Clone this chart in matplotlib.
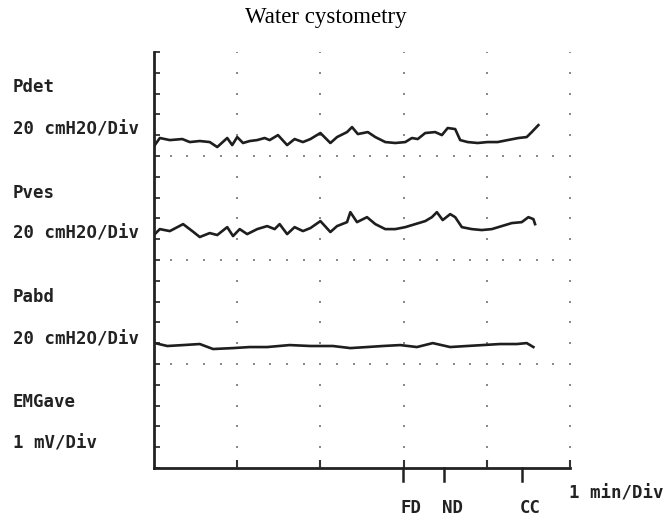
import numpy as np
import matplotlib
matplotlib.use("Agg")
from matplotlib import pyplot as plt
from matplotlib.transforms import blended_transform_factory

# time in minutes, pressure in cmH2O (zero = bottom of each channel band)
t_pdet = [0.01, 0.07, 0.19, 0.34, 0.43, 0.55, 0.67, 0.76, 0.88, 0.94, 1.00, 1.07, 1.15,
          1.24, 1.33, 1.39, 1.49, 1.60, 1.69, 1.79, 1.88, 2.00, 2.12, 2.20, 2.32, 2.38,
          2.45, 2.57, 2.66, 2.78, 2.90, 3.02, 3.10, 3.17, 3.26, 3.38, 3.46, 3.53, 3.62,
          3.68, 3.77, 3.89, 4.01, 4.13, 4.25, 4.38, 4.48, 4.54, 4.62]
p_pdet = [10.5, 17.3, 15.3, 16.3, 13.4, 14.4, 13.4, 8.6, 17.3, 10.5, 18.2, 12.5, 14.4,
          15.3, 17.3, 15.3, 20.1, 10.5, 16.3, 13.4, 16.3, 22.1, 12.5, 18.2, 23.0, 27.8,
          21.1, 23.0, 18.2, 13.4, 12.5, 13.4, 17.3, 16.3, 22.1, 23.0, 20.1, 26.9, 25.9,
          15.3, 13.4, 12.5, 13.4, 13.4, 15.3, 17.3, 18.2, 23.0, 29.7]

t_pves = [0.01, 0.07, 0.19, 0.35, 0.46, 0.55, 0.67, 0.76, 0.88, 0.95, 1.03, 1.12, 1.24,
          1.36, 1.45, 1.51, 1.60, 1.69, 1.79, 1.88, 2.00, 2.12, 2.20, 2.32, 2.36, 2.44,
          2.56, 2.66, 2.78, 2.90, 3.02, 3.14, 3.26, 3.34, 3.40, 3.47, 3.56, 3.62, 3.70,
          3.82, 3.94, 4.06, 4.18, 4.30, 4.42, 4.50, 4.56, 4.58]
p_pves = [24.9, 29.7, 27.8, 34.5, 27.8, 22.1, 25.9, 24.0, 31.6, 23.0, 29.7, 24.9, 29.7,
          32.6, 29.7, 34.5, 24.9, 31.6, 27.8, 30.7, 37.4, 26.9, 32.6, 36.4, 46.0, 36.4,
          41.2, 34.5, 29.7, 29.7, 31.6, 34.5, 37.4, 41.2, 46.0, 38.4, 44.1, 41.2, 31.6,
          29.7, 28.8, 29.7, 32.6, 35.5, 36.4, 41.2, 39.3, 34.5]

t_pabd = [0.01, 0.16, 0.35, 0.55, 0.71, 0.95, 1.15, 1.36, 1.63, 1.88, 2.15, 2.36, 2.56,
          2.75, 2.96, 3.16, 3.35, 3.56, 3.76, 3.95, 4.16, 4.36, 4.48, 4.56]
p_pabd = [20.1, 17.3, 18.2, 19.2, 14.4, 15.3, 16.3, 16.3, 18.2, 17.3, 17.3, 15.3, 16.3,
          17.3, 18.2, 16.3, 20.1, 16.3, 17.3, 18.2, 19.2, 19.2, 20.1, 16.3]

channel_names = ["Pdet", "Pves", "Pabd", "EMGave"]
channel_scales = ["20 cmH2O/Div", "20 cmH2O/Div", "20 cmH2O/Div", "1 mV/Div"]
event_times = [2.99, 3.49, 4.42]
event_labels = ["FD", "ND", "CC"]

mono = dict(family="DejaVu Sans Mono", fontweight="bold", fontsize=12.5, color="#222222")

fig = plt.figure(figsize=(6.68, 5.22), dpi=100)
ax = fig.add_axes([154 / 668, 54 / 522, 416 / 668, 416 / 522])
ax.set_xlim(0, 5)
ax.set_ylim(0, 20)

# dotted grid (dots at every division / every 0.2 min)
for x in range(1, 6):
    ax.plot([x] * 21, np.arange(21), ls="none", marker="s", ms=1.6, color="#8a8a8a", mew=0)
for y in (5, 10, 15):
    xs = np.arange(1, 26) * 0.2
    ax.plot(xs, [y] * len(xs), ls="none", marker="s", ms=1.6, color="#8a8a8a", mew=0)

# traces, each channel band is 5 divisions high
for t, p, off in [(t_pdet, p_pdet, 15), (t_pves, p_pves, 10), (t_pabd, p_pabd, 5)]:
    ax.plot(t, off + np.array(p) / 20.0, color="#1e1e1e", lw=1.9, solid_joinstyle="round")

for s in ("top", "right"):
    ax.spines[s].set_visible(False)
for s in ("left", "bottom"):
    ax.spines[s].set_linewidth(2.0)
    ax.spines[s].set_color("#222222")

ax.set_yticks(np.arange(21))
ax.tick_params(axis="y", direction="in", length=4, width=1.3, color="#333333", labelleft=False)
ax.set_xticks([1, 2, 3, 4, 5])
ax.tick_params(axis="x", direction="in", length=6, width=1.5, color="#333333", labelbottom=False)

# event markers below the time axis
trans = blended_transform_factory(ax.transData, ax.transAxes)
for et, lab in zip(event_times, event_labels):
    ax.plot([et, et], [0, -0.032], transform=trans, color="#222222", lw=1.8, clip_on=False)
    ax.text(et + 0.1, -0.097, lab, transform=trans, ha="center", va="center", **mono)

fig.text(569 / 668, 1 - 494 / 522, "1 min/Div", ha="left", va="center", **mono)

# channel labels on the left
name_y = [87, 193, 297, 402]
scale_y = [130, 233, 340, 443]
for name, sc, ny, sy in zip(channel_names, channel_scales, name_y, scale_y):
    fig.text(13 / 668, 1 - ny / 522, name, ha="left", va="center", **mono)
    fig.text(13 / 668, 1 - sy / 522, sc, ha="left", va="center", **mono)

fig.text(326 / 668, 1 - 18 / 522, "Water cystometry", ha="center", va="center",
         family="Liberation Serif", fontsize=16.5)

fig.savefig("out.png", dpi=100)
